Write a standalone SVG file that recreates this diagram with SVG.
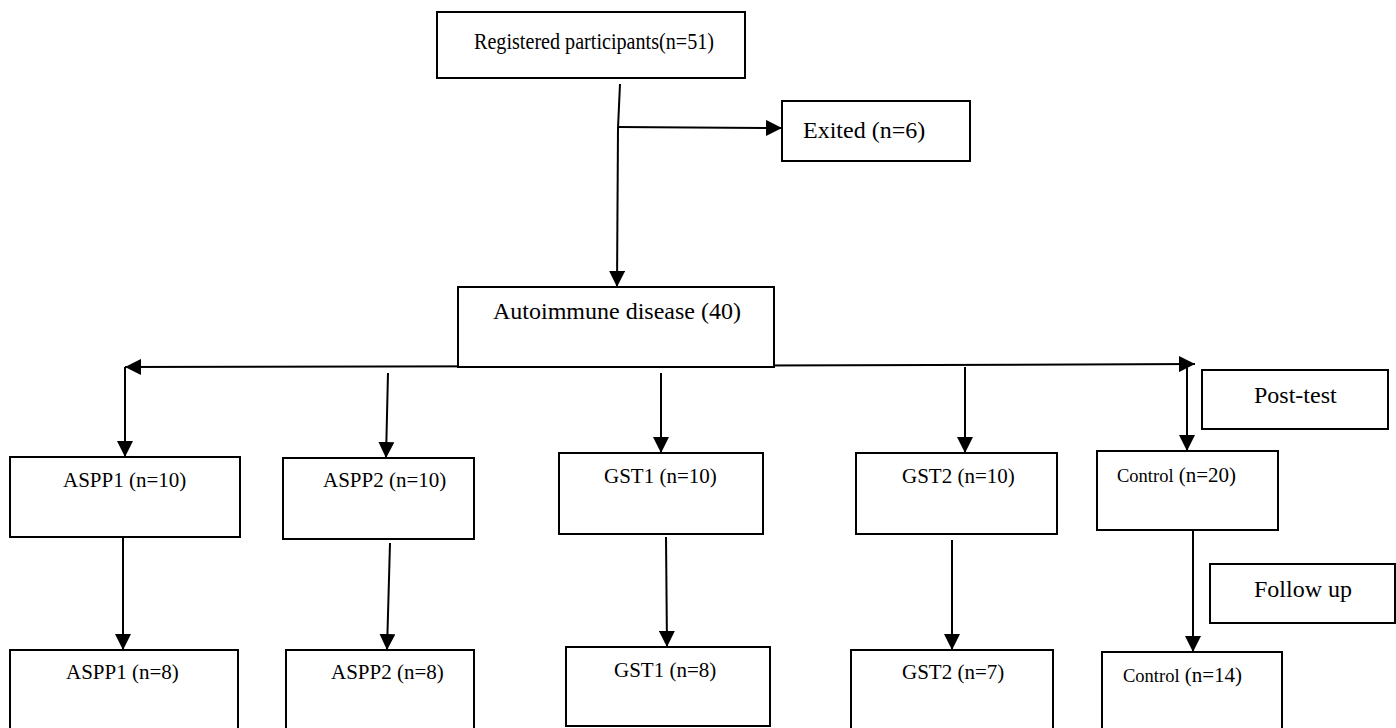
<svg xmlns="http://www.w3.org/2000/svg" width="1396" height="728" viewBox="0 0 1396 728">
<defs>
<style>
.box{fill:#fff;stroke:#000;stroke-width:2}
.t{font-family:"Liberation Serif","Times New Roman",serif;fill:#000;font-size:21px}
.big{font-size:24px}
.sm{font-size:18.5px}
.ln{stroke:#000;stroke-width:2;fill:none}
.arr{stroke:#000;stroke-width:2;fill:none;marker-end:url(#ah)}
</style>
<marker id="ah" markerUnits="userSpaceOnUse" markerWidth="16" markerHeight="16" refX="16" refY="8" orient="auto">
<path d="M0,0 L16,8 L0,16 Z" fill="#000"/>
</marker>
</defs>
<rect width="1396" height="728" fill="#fff"/>

<g id="connectors">
<line class="ln" x1="620" y1="84" x2="618" y2="128"/>
<line class="arr" x1="618" y1="128" x2="617" y2="287"/>
<line class="arr" x1="618" y1="127" x2="782" y2="128"/>
<line class="arr" x1="660" y1="366" x2="125" y2="367"/>
<line class="arr" x1="660" y1="366" x2="1195" y2="364"/>
<line class="arr" x1="125" y1="367" x2="125" y2="457"/>
<line class="arr" x1="388" y1="373" x2="386" y2="458"/>
<line class="arr" x1="661" y1="373" x2="661" y2="453"/>
<line class="arr" x1="965" y1="367" x2="965" y2="453"/>
<line class="arr" x1="1187" y1="364" x2="1187" y2="451"/>
<line class="arr" x1="123" y1="537" x2="123" y2="650"/>
<line class="arr" x1="390" y1="543" x2="387" y2="650"/>
<line class="arr" x1="666" y1="537" x2="667" y2="647"/>
<line class="arr" x1="952" y1="540" x2="952" y2="650"/>
<line class="arr" x1="1193" y1="530" x2="1193" y2="652"/>
</g>

<g id="registered">
<rect class="box" x="437" y="12" width="308" height="66"/>
<text class="t" x="474" y="49" style="font-size:23px" textLength="240" lengthAdjust="spacingAndGlyphs">Registered participants(n=51)</text>
</g>
<g id="exited">
<rect class="box" x="782" y="101" width="188" height="60"/>
<text class="t big" x="803" y="138">Exited (n=6)</text>
</g>
<g id="autoimmune">
<rect class="box" x="458" y="287" width="316" height="80"/>
<text class="t big" x="493" y="319">Autoimmune disease (40)</text>
</g>
<g id="posttest">
<rect class="box" x="1202" y="370" width="186" height="59"/>
<text class="t big" x="1254" y="403">Post-test</text>
</g>
<g id="aspp1a">
<rect class="box" x="10" y="457" width="230" height="80"/>
<text class="t" x="63" y="487">ASPP1 (n=10)</text>
</g>
<g id="aspp2a">
<rect class="box" x="283" y="458" width="191" height="81"/>
<text class="t" x="323" y="487">ASPP2 (n=10)</text>
</g>
<g id="gst1a">
<rect class="box" x="559" y="453" width="204" height="81"/>
<text class="t" x="604" y="483">GST1 (n=10)</text>
</g>
<g id="gst2a">
<rect class="box" x="856" y="453" width="201" height="81"/>
<text class="t" x="902" y="483">GST2 (n=10)</text>
</g>
<g id="control20">
<rect class="box" x="1097" y="451" width="181" height="79"/>
<text class="t" x="1117" y="482"><tspan class="sm">Control</tspan> (n=20)</text>
</g>
<g id="followup">
<rect class="box" x="1210" y="564" width="185" height="59"/>
<text class="t big" x="1254" y="597">Follow up</text>
</g>
<g id="aspp1b">
<rect class="box" x="10" y="650" width="228" height="90"/>
<text class="t" x="66" y="679">ASPP1 (n=8)</text>
</g>
<g id="aspp2b">
<rect class="box" x="286" y="650" width="188" height="90"/>
<text class="t" x="331" y="679">ASPP2 (n=8)</text>
</g>
<g id="gst1b">
<rect class="box" x="566" y="647" width="204" height="79"/>
<text class="t" x="614" y="677">GST1 (n=8)</text>
</g>
<g id="gst2b">
<rect class="box" x="851" y="650" width="202" height="90"/>
<text class="t" x="902" y="679">GST2 (n=7)</text>
</g>
<g id="control14">
<rect class="box" x="1102" y="652" width="180" height="90"/>
<text class="t" x="1123" y="682"><tspan class="sm">Control</tspan> (n=14)</text>
</g>
</svg>
